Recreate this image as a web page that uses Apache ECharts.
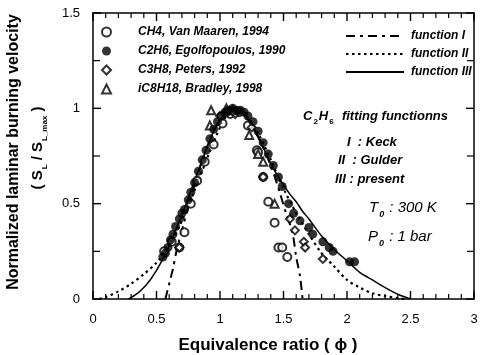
<!DOCTYPE html>
<html>
<head>
<meta charset="utf-8">
<script src="https://cdn.jsdelivr.net/npm/echarts@6/dist/echarts.min.js"></script>
<style>
  html, body { margin: 0; padding: 0; background: #fff; }
  #main { width: 481px; height: 355px; }
</style>
</head>
<body>
<div id="main"></div>
<script>
const ch4X = [0.56, 0.62, 0.68, 0.72, 0.77, 0.82, 0.88, 0.95, 1.02, 1.08, 1.15, 1.22, 1.29, 1.30, 1.34, 1.38, 1.43, 1.46, 1.49, 1.53];
const ch4Y = [0.25, 0.30, 0.27, 0.35, 0.50, 0.62, 0.72, 0.81, 0.92, 0.97, 0.98, 0.91, 0.78, 0.77, 0.64, 0.51, 0.40, 0.27, 0.27, 0.22];

const c2h6X = [0.55, 0.57, 0.59, 0.61, 0.63, 0.65, 0.68, 0.70, 0.72, 0.75, 0.77, 0.80, 0.83, 0.86, 0.89, 0.92, 0.95, 0.98, 1.01, 1.04, 1.07, 1.10, 1.13, 1.16, 1.19, 1.22, 1.26, 1.30, 1.34, 1.38, 1.42, 1.46, 1.49, 1.54, 1.58, 1.63, 1.70, 1.73, 1.81, 1.86, 1.89, 2.02, 2.06];
const c2h6Y = [0.22, 0.24, 0.27, 0.31, 0.34, 0.38, 0.42, 0.45, 0.47, 0.52, 0.56, 0.61, 0.67, 0.73, 0.78, 0.84, 0.89, 0.93, 0.96, 0.98, 0.99, 1.00, 0.99, 0.99, 0.98, 0.96, 0.93, 0.88, 0.82, 0.76, 0.70, 0.64, 0.59, 0.50, 0.45, 0.41, 0.375, 0.34, 0.30, 0.27, 0.25, 0.195, 0.195];

const c3h8X = [0.68, 1.00, 1.06, 1.12, 1.25, 1.34, 1.55, 1.59, 1.66, 1.67, 1.81];
const c3h8Y = [0.27, 0.96, 0.98, 0.97, 0.90, 0.64, 0.42, 0.36, 0.30, 0.27, 0.21];

const ic8X = [0.92, 0.93, 1.05, 1.10, 1.23, 1.30, 1.34, 1.43];
const ic8Y = [0.91, 0.99, 1.00, 0.99, 0.86, 0.76, 0.72, 0.50];

// fitting functions (traced)
const f1X = [0.57, 0.60, 0.63, 0.66, 0.70, 0.80, 0.90, 1.00, 1.10, 1.20, 1.30, 1.40, 1.47, 1.52, 1.57, 1.60, 1.63, 1.65];
const f1Y = [0.00, 0.08, 0.16, 0.26, 0.36, 0.60, 0.80, 0.94, 1.00, 0.96, 0.85, 0.70, 0.56, 0.45, 0.35, 0.22, 0.12, 0.00];

const f2X = [0.05, 0.10, 0.20, 0.30, 0.40, 0.50, 0.55, 0.60, 0.70, 0.80, 0.90, 1.00, 1.05, 1.10, 1.15, 1.20, 1.30, 1.40, 1.50, 1.60, 1.70, 1.80, 1.90, 2.00, 2.10, 2.20, 2.30, 2.40, 2.45];
const f2Y = [0.00, 0.01, 0.04, 0.08, 0.13, 0.19, 0.23, 0.28, 0.41, 0.57, 0.74, 0.90, 0.96, 0.99, 1.00, 0.97, 0.87, 0.73, 0.58, 0.45, 0.34, 0.24, 0.17, 0.10, 0.06, 0.03, 0.015, 0.005, 0.00];

const f3X = [0.28, 0.35, 0.40, 0.45, 0.50, 0.55, 0.60, 0.65, 0.70, 0.75, 0.80, 0.85, 0.90, 0.95, 1.00, 1.05, 1.10, 1.15, 1.20, 1.25, 1.30, 1.35, 1.40, 1.45, 1.50, 1.55, 1.60, 1.65, 1.70, 1.80, 1.90, 2.00, 2.10, 2.20, 2.30, 2.40, 2.50];
const f3Y = [0.00, 0.03, 0.06, 0.10, 0.15, 0.21, 0.28, 0.36, 0.44, 0.53, 0.62, 0.71, 0.80, 0.88, 0.94, 0.98, 1.00, 0.99, 0.96, 0.91, 0.85, 0.78, 0.71, 0.65, 0.60, 0.55, 0.51, 0.46, 0.42, 0.33, 0.26, 0.20, 0.14, 0.10, 0.06, 0.025, 0.00];

// tick labels / tick marks
const xTicks = [0, 0.5, 1, 1.5, 2, 2.5, 3];
const yTicks = [0, 0.5, 1, 1.5];
const xMinor = [0.1, 0.2, 0.3, 0.4, 0.6, 0.7, 0.8, 0.9, 1.1, 1.2, 1.3, 1.4, 1.6, 1.7, 1.8, 1.9, 2.1, 2.2, 2.3, 2.4, 2.6, 2.7, 2.8, 2.9];
const yMinor = [0.25, 0.75, 1.25];

function pairs(xs, ys) {
    return xs.map((x, i) => [x, ys[i]]);
}

const myChart = echarts.init(document.getElementById('main'));
const fontFam = 'Liberation Sans, Arial, sans-serif';
const legendText = { fontFamily: fontFam, fontSize: 12, fontStyle: 'italic', fontWeight: 'bold', color: '#000' };
const noteStyle = { verticalAlign: 'middle', fontFamily: fontFam, fontStyle: 'italic', fontWeight: 'bold', fontSize: 13, fill: '#000' };

function makeAxis(pos, labels) {
    const isX = pos === 'bottom' || pos === 'top';
    return {
        type: 'value',
        position: pos,
        min: 0,
        max: isX ? 3 : 1.5,
        interval: 0.5,
        axisLine: { show: true, onZero: false, lineStyle: { color: '#000', width: 1.5 } },
        axisTick: { show: false },
        splitLine: { show: false },
        axisLabel: labels ? {
            show: true, margin: isX ? 14 : 13, color: '#000', fontSize: 13, fontFamily: fontFam,
            formatter: v => (isX ? xTicks : yTicks).includes(v) ? String(v) : ''
        } : { show: false }
    };
}

// 文字部分
const texts = [
    {
        type: 'text', x: 14, y: 152, rotation: Math.PI / 2,
        style: {
            text: 'Normalized laminar burning velocity', align: 'center', verticalAlign: 'middle',
            fontFamily: fontFam, fontWeight: 'bold', fontSize: 16, fill: '#000'
        }
    },
    {
        type: 'text', x: 38, y: 148, rotation: Math.PI / 2,
        style: {
            text: '( S{s|L} / S{s|L_max} )', align: 'center', verticalAlign: 'middle',
            fontFamily: fontFam, fontWeight: 'bold', fontSize: 15, fill: '#000',
            rich: { s: { fontSize: 8, fontFamily: fontFam, fontWeight: 'bold', padding: [13, 0, 0, 1] } }
        }
    },
    {
        type: 'text', x: 268, y: 345,
        style: {
            text: 'Equivalence ratio ( ϕ )', align: 'center', verticalAlign: 'middle',
            fontFamily: fontFam, fontWeight: 'bold', fontSize: 17, fill: '#000'
        }
    },
    {
        type: 'text', x: 303, y: 116,
        style: Object.assign({
            text: 'C{s|2}H{s|6}  fitting functionns',
            rich: { s: { fontSize: 8, fontFamily: fontFam, fontWeight: 'bold', padding: [12, 1, 0, 1] } }
        }, noteStyle)
    },
    { type: 'text', x: 347, y: 142, style: Object.assign({ text: 'I  : Keck' }, noteStyle) },
    { type: 'text', x: 338, y: 160, style: Object.assign({ text: 'II  : Gulder' }, noteStyle) },
    { type: 'text', x: 335, y: 179, style: Object.assign({ text: 'III : present' }, noteStyle) },
    {
        type: 'text', x: 369, y: 208,
        style: Object.assign({}, noteStyle, {
            text: 'T{s|0} : 300 K', fontSize: 15, fontWeight: 'normal',
            rich: { s: { fontSize: 9, fontFamily: fontFam, fontStyle: 'italic', fontWeight: 'bold', padding: [14, 1, 0, 1] } }
        })
    },
    {
        type: 'text', x: 368, y: 237,
        style: Object.assign({}, noteStyle, {
            text: 'P{s|0} : 1 bar', fontSize: 15, fontWeight: 'normal',
            rich: { s: { fontSize: 9, fontFamily: fontFam, fontStyle: 'italic', fontWeight: 'bold', padding: [14, 1, 0, 1] } }
        })
    }
];

myChart.setOption({
    animation: false,
    backgroundColor: '#fff',
    grid: { left: 93, right: 7, top: 13, bottom: 56 },
    xAxis: [makeAxis('bottom', true), makeAxis('top', false)],
    yAxis: [makeAxis('left', true), makeAxis('right', false)],
    legend: [
        {
            data: ['CH4, Van Maaren, 1994', 'C2H6, Egolfopoulos, 1990', 'C3H8, Peters, 1992', 'iC8H18, Bradley, 1998'],
            orient: 'vertical', left: 96, top: 21,
            itemWidth: 9, itemHeight: 9, itemGap: 7,
            textStyle: Object.assign({ padding: [0, 0, 0, 22] }, legendText)
        },
        {
            data: ['function I', 'function II', 'function III'],
            orient: 'vertical', left: 340, top: 25,
            itemWidth: 58, itemHeight: 10, itemGap: 6,
            itemStyle: { opacity: 0 },
            textStyle: Object.assign({ padding: [0, 0, 0, 2] }, legendText)
        }
    ],
    series: [
        {
            name: 'CH4, Van Maaren, 1994', type: 'scatter', symbol: 'emptyCircle', symbolSize: 8,
            itemStyle: { color: '#000', borderWidth: 1 }, data: pairs(ch4X, ch4Y), z: 3
        },
        {
            name: 'C2H6, Egolfopoulos, 1990', type: 'scatter', symbol: 'circle', symbolSize: 9,
            itemStyle: { color: '#000' }, data: pairs(c2h6X, c2h6Y), z: 4
        },
        {
            name: 'C3H8, Peters, 1992', type: 'scatter', symbol: 'emptyDiamond', symbolSize: 8,
            itemStyle: { color: '#000', borderWidth: 1 }, data: pairs(c3h8X, c3h8Y), z: 3
        },
        {
            name: 'iC8H18, Bradley, 1998', type: 'scatter', symbol: 'emptyTriangle', symbolSize: 8,
            itemStyle: { color: '#000', borderWidth: 1 }, data: pairs(ic8X, ic8Y), z: 3
        },
        {
            name: 'function I', type: 'line', showSymbol: false, symbol: 'none', smooth: 0.3,
            lineStyle: { color: '#000', width: 2, type: [9, 5, 3, 5] },
            itemStyle: { color: '#000' }, data: pairs(f1X, f1Y)
        },
        {
            name: 'function II', type: 'line', showSymbol: false, symbol: 'none', smooth: 0.3,
            lineStyle: { color: '#000', width: 2.2, type: [2.5, 3.5] },
            itemStyle: { color: '#000' }, data: pairs(f2X, f2Y)
        },
        {
            name: 'function III', type: 'line', showSymbol: false, symbol: 'none', smooth: 0.3,
            lineStyle: { color: '#000', width: 1.5 },
            itemStyle: { color: '#000' }, data: pairs(f3X, f3Y)
        }
    ],
    graphic: texts
});

// 刻度线：用图表自己的坐标换算出像素位置，再画成 graphic 短线，四边朝里
const finder = { xAxisIndex: 0, yAxisIndex: 0 };
const tickLines = [];
function addTick(val, dx, dy, w) {
    const p = myChart.convertToPixel(finder, val);
    if (!p || isNaN(p[0]) || isNaN(p[1])) return;
    tickLines.push({
        type: 'line', silent: true, z: 10,
        shape: { x1: p[0], y1: p[1], x2: p[0] + dx, y2: p[1] + dy },
        style: { stroke: '#000', lineWidth: w }
    });
}
xTicks.forEach(v => { addTick([v, 0], 0, -8, 1.4); addTick([v, 1.5], 0, 8, 1.4); });
xMinor.forEach(v => { addTick([v, 0], 0, -5, 1.2); addTick([v, 1.5], 0, 5, 1.2); });
yTicks.forEach(v => { addTick([0, v], 8, 0, 1.4); addTick([3, v], -8, 0, 1.4); });
yMinor.forEach(v => { addTick([0, v], 7, 0, 1.2); addTick([3, v], -7, 0, 1.2); });

myChart.setOption({ graphic: texts.concat(tickLines) });
</script>
</body>
</html>
